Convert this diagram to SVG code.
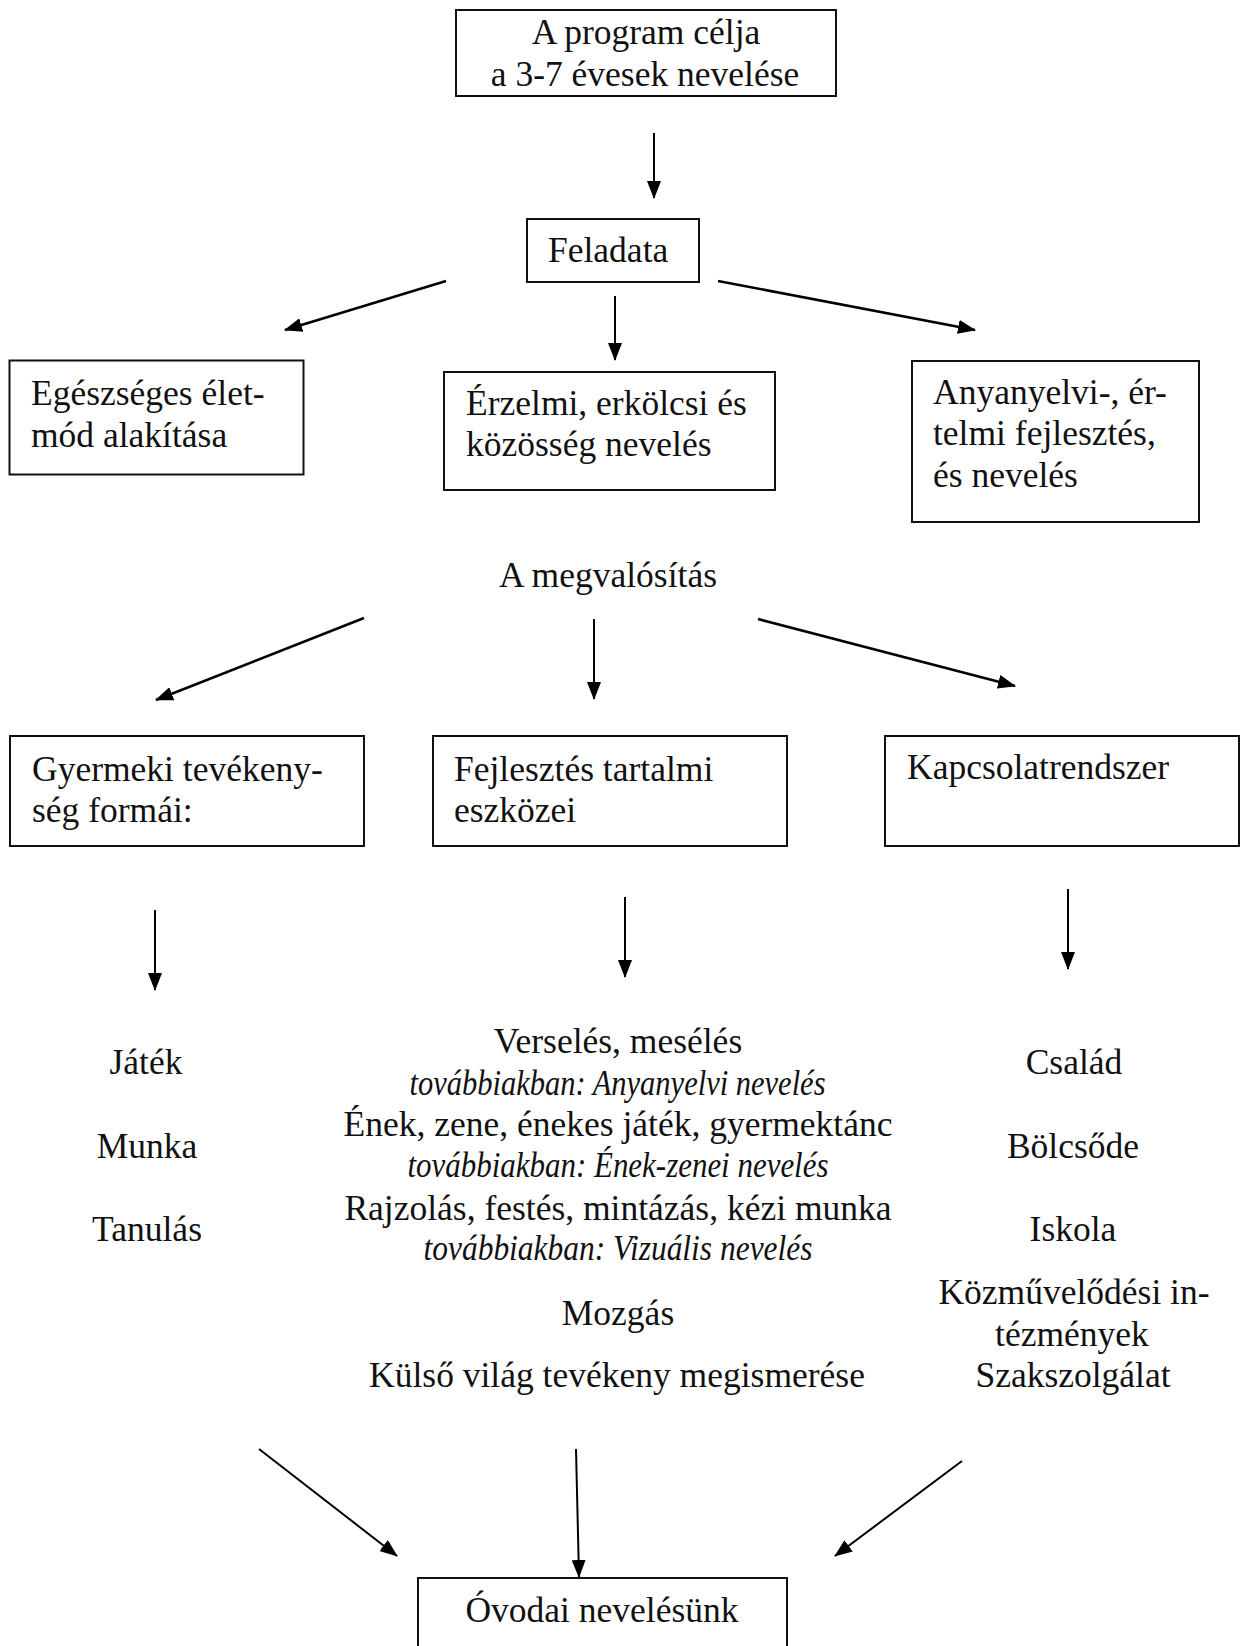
<svg xmlns="http://www.w3.org/2000/svg" width="1241" height="1646" viewBox="0 0 1241 1646">
<style>
  .box { fill: #ffffff; stroke: #111111; stroke-width: 2; }
  .t { font-family: "Liberation Serif", "Times New Roman", serif; font-size: 35.5px; fill: #111111; }
  .c { text-anchor: middle; }
  .i { font-style: italic; }
  .ln { stroke: #000000; stroke-width: 2; fill: none; marker-end: url(#ah); }
  .d { stroke-width: 2.6; }
</style>
<defs>
  <marker id="ah" markerUnits="userSpaceOnUse" markerWidth="18" markerHeight="14" viewBox="0 0 18 14" refX="17" refY="7" orient="auto">
    <path d="M0,0 L18,7 L0,14 z" fill="#000000"/>
  </marker>
</defs>
<rect width="1241" height="1646" fill="#ffffff"/>

<g id="connectors">
  <line class="ln" x1="654" y1="133" x2="654" y2="198"/>
  <line class="ln d" x1="446" y1="281" x2="285" y2="330"/>
  <line class="ln" x1="615" y1="296" x2="615" y2="360"/>
  <line class="ln d" x1="718" y1="281" x2="975" y2="330"/>
  <line class="ln d" x1="364" y1="618" x2="156" y2="700"/>
  <line class="ln" x1="594" y1="619" x2="594" y2="699"/>
  <line class="ln d" x1="758" y1="619" x2="1015" y2="686"/>
  <line class="ln" x1="155" y1="910" x2="155" y2="990"/>
  <line class="ln" x1="625" y1="897" x2="625" y2="977"/>
  <line class="ln" x1="1068" y1="889" x2="1068" y2="969"/>
  <line class="ln" x1="259" y1="1449" x2="397" y2="1556"/>
  <line class="ln" x1="576" y1="1449" x2="579" y2="1577"/>
  <line class="ln" x1="962" y1="1461" x2="835" y2="1556"/>
</g>

<g id="node-cel">
  <rect class="box" x="456" y="10" width="380" height="86"/>
  <text class="t c" x="646" y="44">A program célja</text>
  <text class="t c" x="645" y="86">a 3-7 évesek nevelése</text>
</g>

<g id="node-feladata">
  <rect class="box" x="527" y="219" width="172" height="63"/>
  <text class="t" x="548" y="262">Feladata</text>
</g>

<g id="node-egeszseges">
  <rect class="box" x="9.5" y="360.5" width="294" height="114"/>
  <text class="t" x="31" y="405">Egészséges élet-</text>
  <text class="t" x="31" y="447">mód alakítása</text>
</g>

<g id="node-erzelmi">
  <rect class="box" x="444" y="372" width="331" height="118"/>
  <text class="t" x="466" y="415">Érzelmi, erkölcsi és</text>
  <text class="t" x="466" y="456">közösség nevelés</text>
</g>

<g id="node-anyanyelvi">
  <rect class="box" x="912" y="361" width="287" height="161"/>
  <text class="t" x="933" y="404">Anyanyelvi-, ér-</text>
  <text class="t" x="933" y="445">telmi fejlesztés,</text>
  <text class="t" x="933" y="487">és nevelés</text>
</g>

<g id="node-megvalositas">
  <text class="t c" x="608" y="587">A megvalósítás</text>
</g>

<g id="node-gyermeki">
  <rect class="box" x="10" y="736" width="354" height="110"/>
  <text class="t" x="32" y="781">Gyermeki tevékeny-</text>
  <text class="t" x="32" y="822">ség formái:</text>
</g>

<g id="node-fejlesztes">
  <rect class="box" x="433" y="736" width="354" height="110"/>
  <text class="t" x="454" y="781">Fejlesztés tartalmi</text>
  <text class="t" x="454" y="822">eszközei</text>
</g>

<g id="node-kapcsolat">
  <rect class="box" x="885" y="736" width="354" height="110"/>
  <text class="t" x="907" y="779">Kapcsolatrendszer</text>
</g>

<g id="node-formak">
  <text class="t c" x="146" y="1074">Játék</text>
  <text class="t c" x="147" y="1158">Munka</text>
  <text class="t c" x="147" y="1241">Tanulás</text>
</g>

<g id="node-eszkozok">
  <text class="t c" x="618" y="1053">Verselés, mesélés</text>
  <text class="t c i" x="617.5" y="1095" textLength="416" lengthAdjust="spacingAndGlyphs">továbbiakban: Anyanyelvi nevelés</text>
  <text class="t c" x="618" y="1136">Ének, zene, énekes játék, gyermektánc</text>
  <text class="t c i" x="618" y="1177" textLength="421" lengthAdjust="spacingAndGlyphs">továbbiakban: Ének-zenei nevelés</text>
  <text class="t c" x="618" y="1220">Rajzolás, festés, mintázás, kézi munka</text>
  <text class="t c i" x="618" y="1260" textLength="389" lengthAdjust="spacingAndGlyphs">továbbiakban: Vizuális nevelés</text>
  <text class="t c" x="618" y="1325">Mozgás</text>
  <text class="t c" x="617" y="1387">Külső világ tevékeny megismerése</text>
</g>

<g id="node-kapcsolatok">
  <text class="t c" x="1074" y="1074">Család</text>
  <text class="t c" x="1073" y="1158">Bölcsőde</text>
  <text class="t c" x="1073" y="1241">Iskola</text>
  <text class="t c" x="1074" y="1304">Közművelődési in-</text>
  <text class="t c" x="1072" y="1346">tézmények</text>
  <text class="t c" x="1073" y="1387">Szakszolgálat</text>
</g>

<g id="node-ovodai">
  <rect class="box" x="418" y="1578" width="369" height="100"/>
  <text class="t c" x="602" y="1622">Óvodai nevelésünk</text>
</g>
</svg>
